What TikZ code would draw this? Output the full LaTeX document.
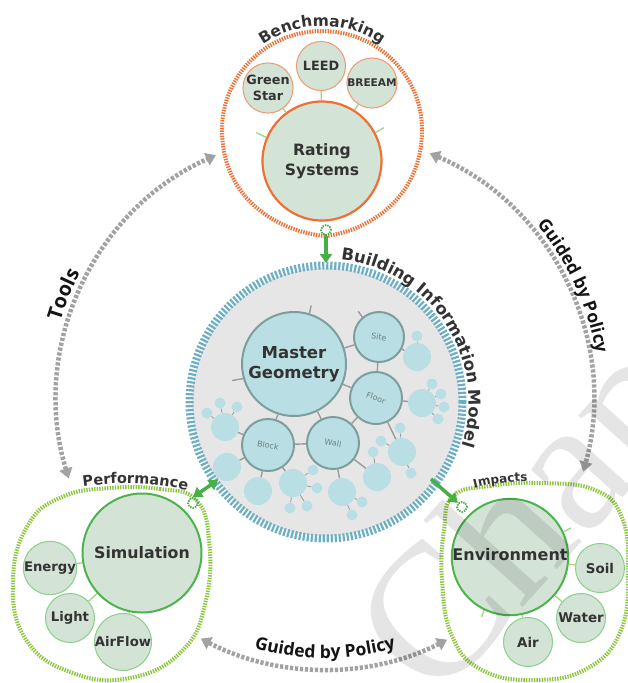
\documentclass[tikz,border=0pt]{standalone}
\usepackage{graphicx}
\usepackage{fontspec}
\setmainfont{DejaVu Sans}
\newfontfamily\arcfont{Open Sans}
\newfontfamily\markfont{Liberation Serif}
\usetikzlibrary{arrows.meta,decorations.text,calc}

\definecolor{ink}{HTML}{333333}
\definecolor{orng}{HTML}{EE7035}
\definecolor{orngpale}{HTML}{EF9A70}
\definecolor{leaf}{HTML}{8DC641}
\definecolor{grn}{HTML}{4DB34D}
\definecolor{grnpale}{HTML}{8ACF8A}
\definecolor{twig}{HTML}{A2D57F}
\definecolor{arrowgrn}{HTML}{46AF46}
\definecolor{sage}{HTML}{D3E3D6}
\definecolor{ring}{HTML}{6CAFC5}
\definecolor{aqua}{HTML}{B9DFE4}
\definecolor{aquaedge}{HTML}{7E9E9E}
\definecolor{bimbg}{HTML}{E6E6E6}
\definecolor{flow}{HTML}{A2A2A4}
\definecolor{bimline}{HTML}{9A9A9A}
\definecolor{bimtext}{HTML}{6E8081}

\newcommand\fsz[2]{\fontsize{#1}{#2}\selectfont}

\tikzset{
  hubnode/.style={circle, line width=2pt, fill=sage, text=ink, align=center, inner sep=0pt},
  petal/.style={circle, line width=1pt, fill=sage, text=ink, align=center,
    inner sep=0pt, minimum size=49pt},
  twigline/.style={twig, line width=1.3pt},
  bimnode/.style={circle, draw=aquaedge, line width=2pt, fill=aqua, inner sep=0pt,
    minimum size=52pt, text=bimtext, font=\fsz{8}{9}},
  bud/.style={circle, fill=aqua, inner sep=0pt, minimum size=28pt},
  seed/.style={circle, fill=aqua, inner sep=0pt, minimum size=11pt},
  bimlink/.style={bimline, line width=1.4pt},
  budlink/.style={bimline, line width=0.8pt},
  flowarc/.style={flow, line width=4.5pt, dash pattern=on 3.2pt off 1.8pt,
    >={Triangle[width=13pt,length=10pt]}, <->},
  greenarrow/.style={arrowgrn, line width=3.5pt, >={Triangle[width=12pt,length=9pt]}, ->},
  sprocket/.style={circle, draw=arrowgrn, line width=1.8pt, dash pattern=on 1.4pt off 1.1pt,
    minimum size=10pt, inner sep=0pt},
  stripe/.style={line width=4pt, dash pattern=on 1.4pt off 1.2pt},
}

\begin{document}
\begin{tikzpicture}[x=1pt,y=-1pt]
\fill[white] (0,0) rectangle (627,683);
\useasboundingbox (0,0) rectangle (627,683);

% ---------- outer flow arcs ----------
\coordinate (c) at (325,400);
\coordinate (toolsA) at ($(c)+(197:268pt)$);
\coordinate (policyA) at ($(c)+(67:268pt)$);
\coordinate (policyB) at ($(c)+(242.5:269pt)$);
\draw[flowarc] (toolsA) arc[start angle=197, end angle=114, radius=268pt];
\draw[flowarc] (policyA) arc[start angle=67, end angle=-15.5, radius=268pt];
\draw[flowarc] (policyB) arc[start angle=242.5, end angle=297, radius=269pt];

\path[decorate, decoration={text along path, text align=center, text color=black!92,
    text={|\arcfont\bfseries\fsz{20}{20}|Tools}}]
  ($(c)+(198:276pt)$) arc[start angle=198, end angle=118, radius=276pt];
\path[decorate, decoration={text along path, text align=center, text color=black!92,
    text={|\arcfont\bfseries\fsz{17.5}{17.5}|Guided by Policy}}]
  ($(c)+(69:275pt)$) arc[start angle=69, end angle=-19.6, radius=275pt];
\path[decorate, decoration={text along path, text align=center, text color=black!92,
    text={|\arcfont\bfseries\fsz{17.5}{17.5}|Guided by Policy}}]
  ($(c)+(242:258pt)$) arc[start angle=242, end angle=298, radius=258pt];

% ---------- benchmarking outline ----------
\draw[orng, stripe] (325,236) .. controls (280,232) and (222,200) .. (222,130)
  .. controls (222,75) and (267,31) .. (322,31)
  .. controls (377,31) and (422,75) .. (422,130)
  .. controls (422,200) and (365,232) .. (325,236) -- cycle;
\coordinate (bmc) at (322,130);
\path[decorate, decoration={text along path, text align=center, text color=ink,
    text={|\bfseries\fsz{15.5}{15.5}|Benchmarking}}]
  ($(bmc)+(150:104pt)$) arc[start angle=150, end angle=30, radius=104pt];

% ---------- performance and impacts outlines ----------
\draw[leaf, stripe] plot[smooth cycle, tension=0.75] coordinates
  {(110,488) (160,489) (196,500) (209,540) (206,600) (183,650) (130,678)
   (70,672) (25,638) (13,580) (28,525) (62,497)};
\draw[leaf, stripe] plot[smooth cycle, tension=0.75] coordinates
  {(453,496) (490,486) (540,483) (595,490) (622,518) (628,570) (621,630)
   (588,668) (535,680) (482,670) (452,636) (442,580) (444,530)};
\path[decorate, decoration={text along path, text align=center, text color=ink,
    text={|\bfseries\fsz{14.5}{14.5}|Performance}}]
  (68,489) .. controls (110,481) and (160,481) .. (202,495);
\path[decorate, decoration={text along path, text align=center, text color=ink,
    text={|\bfseries\fsz{12}{12}|Impacts}}]
  (458,494) .. controls (480,484) and (515,480) .. (545,482);

% ---------- building information model ----------
\coordinate (bim) at (326,402);
\fill[bimbg] (bim) circle[radius=134pt];
\draw[ring, line width=8pt, dash pattern=on 2.2pt off 1.8pt] (bim) circle[radius=136.5pt];
\path[decorate, decoration={text along path, text align=center, text color=ink,
    text={|\bfseries\fsz{16.5}{16.5}|Building Information Model}}]
  ($(bim)+(100:143pt)$) arc[start angle=100, end angle=-33.6, radius=143pt];

\node[bimnode, minimum size=104pt, text=ink, font=\bfseries\fsz{16.5}{20}] (master) at (294,364)
  {\raisebox{8pt}{\begin{tabular}{@{}c@{}}Master\\Geometry\end{tabular}}};
\node[bimnode, minimum size=50pt] (site) at (379,337) {\rotatebox{-10}{Site}};
\node[bimnode] (floor) at (376,398) {\rotatebox{-20}{Floor}};
\node[bimnode] (wall) at (333,443) {\rotatebox{-10}{Wall}};
\node[bimnode] (block) at (268,445) {\rotatebox{-10}{Block}};

\node[bud] (a1) at (417,357) {};
\node[bud] (a2) at (422,403) {};
\node[bud] (a3) at (402,452) {};
\node[bud] (a4) at (377,477) {};
\node[bud] (a5) at (342,492) {};
\node[bud] (a6) at (293,483) {};
\node[bud] (a7) at (258,491) {};
\node[bud] (a8) at (227,467) {};
\node[bud] (a9) at (225,427) {};
\node[seed] (s1) at (417,336) {};
\node[seed] (s2) at (432,384) {};
\node[seed] (s3) at (441,394) {};
\node[seed] (s4) at (444,407) {};
\node[seed] (s5) at (438,419) {};
\node[seed] (s6) at (381,441) {};
\node[seed] (s7) at (400,428) {};
\node[seed] (s8) at (411,473) {};
\node[seed] (s9) at (373,452) {};
\node[seed] (s10) at (362,502) {};
\node[seed] (s11) at (352,515) {};
\node[seed] (s12) at (313,470) {};
\node[seed] (s13) at (317,488) {};
\node[seed] (s14) at (307,506) {};
\node[seed] (s15) at (290,508) {};
\node[seed] (s16) at (207,413) {};
\node[seed] (s17) at (220,403) {};
\node[seed] (s18) at (237,407) {};

\foreach \u/\v in {master/site, master/floor, master/wall, master/block,
                   site/floor, floor/wall, wall/block,
                   site/a1, floor/a2, floor/a3, wall/a4, wall/a5,
                   block/a6, block/a7, block/a8, block/a9}
  \draw[bimlink] (\u) -- (\v);
\foreach \u/\v in {a1/s1, a2/s2, a2/s3, a2/s4, a2/s5, a3/s6, a3/s7, a3/s8,
                   a4/s9, a5/s10, a5/s11, a6/s12, a6/s13, a6/s14, a6/s15,
                   a9/s16, a9/s17, a9/s18}
  \draw[budlink] (\u) -- (\v);
\draw[bimlink] (master.73) -- ++(78:8pt);
\draw[bimlink] (master.196) -- ++(190:11pt);
\draw[bimlink] (site.130) -- ++(125:7pt);

% ---------- rating systems ----------
\node[hubnode, draw=orng, line width=2.2pt, minimum size=119pt,
      font=\bfseries\fsz{15.6}{20}] (rs) at (322,161) {Rating\\Systems};
\node[petal, draw=orngpale, font=\bfseries\fsz{12.8}{16}] (gs) at (268,88) {Green\\Star};
\node[petal, draw=orngpale, font=\bfseries\fsz{12.8}{16}] (leed) at (321,66) {LEED};
\node[petal, draw=orngpale, font=\bfseries\fsz{10.6}{12}] (br) at (372,83) {BREEAM};
\draw[twigline] (gs) -- (rs);
\draw[twigline] (leed) -- (rs);
\draw[twigline] (br) -- (rs);
\draw[twigline] (rs.157) -- ++(155:11pt);
\draw[twigline] (rs.28) -- ++(30:10pt);

% ---------- simulation ----------
\node[hubnode, draw=grn, minimum size=119pt, font=\bfseries\fsz{15.8}{18}] (sim) at (142,553) {Simulation};
\node[petal, draw=grnpale, font=\bfseries\fsz{13.2}{15}] (energy) at (50,568) {Energy};
\node[petal, draw=grnpale, font=\bfseries\fsz{13.2}{15}] (light) at (70,618) {Light};
\node[petal, draw=grnpale, font=\bfseries\fsz{13.2}{15}] (airflow) at (123,642) {AirFlow};
\draw[twigline] (energy) -- (sim);
\draw[twigline] (light) -- (sim);
\draw[twigline] (airflow) -- (sim);

% ---------- environment ----------
\node[hubnode, draw=grn, minimum size=114pt, font=\bfseries\fsz{16}{18}] (env) at (510,557)
  {\raisebox{6pt}{Environment}};
\node[petal, draw=grnpale, font=\bfseries\fsz{13.4}{15}] (soil) at (600,568) {Soil};
\node[petal, draw=grnpale, font=\bfseries\fsz{13.4}{15}] (water) at (581,618) {Water};
\node[petal, draw=grnpale, font=\bfseries\fsz{13.4}{15}] (air) at (528,642) {Air};
\draw[twigline] (soil) -- (env);
\draw[twigline] (water) -- (env);
\draw[twigline] (air) -- (env);
\draw[twigline] (env.25) -- ++(30:8pt);
\draw[twigline] (env.244) -- ++(250:7pt);

% ---------- links between the rings ----------
\node[sprocket] (d1) at (326,230) {};
\node[sprocket] (d2) at (193,503) {};
\node[sprocket] (d3) at (462,507) {};
\coordinate (bimtop) at (326,263);
\coordinate (bimleft) at (218,480);
\coordinate (bimright) at (431,479);
\draw[greenarrow] (d1.south) -- (bimtop);
\draw[greenarrow, <->] (bimleft) -- (d2.north);
\draw[greenarrow] (bimright) -- (d3.135);

% ---------- watermark ----------
\node[anchor=base west, rotate=48, text=black, opacity=0.1, inner sep=0pt,
      font=\markfont\fsz{190}{190}] (wm) at (436,705) {Chapter};
\end{tikzpicture}
\end{document}
